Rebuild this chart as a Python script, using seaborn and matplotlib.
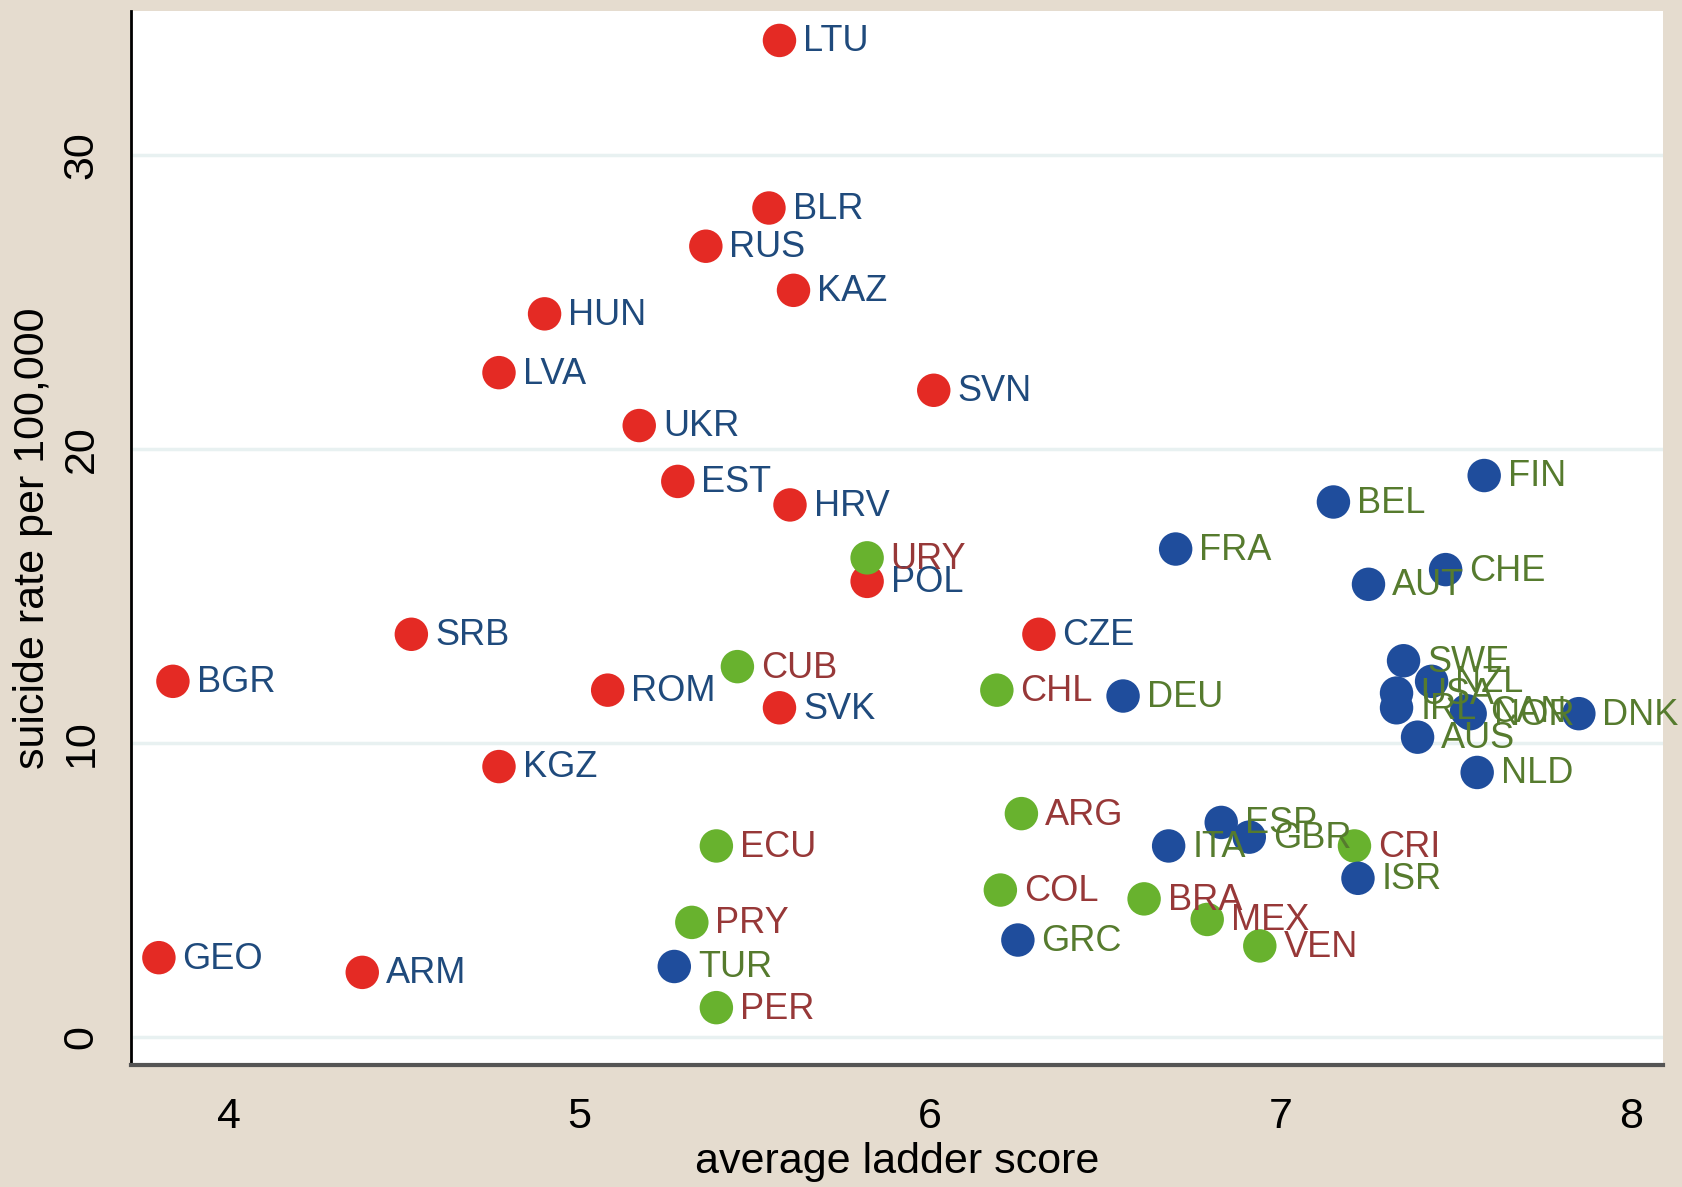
import seaborn as sns
import matplotlib.pyplot as plt
import pandas as pd

# country codes, ladder score, suicide rate, group
red_codes = ['LTU', 'BLR', 'RUS', 'KAZ', 'HUN', 'LVA', 'SVN', 'UKR', 'EST', 'HRV',
             'POL', 'SRB', 'CZE', 'BGR', 'ROM', 'SVK', 'KGZ', 'GEO', 'ARM']
red_ladder = [5.57, 5.54, 5.36, 5.61, 4.90, 4.77, 6.01, 5.17, 5.28, 5.60,
              5.82, 4.52, 6.31, 3.84, 5.08, 5.57, 4.77, 3.80, 4.38]
red_suicide = [33.9, 28.2, 26.9, 25.4, 24.6, 22.6, 22.0, 20.8, 18.9, 18.1,
               15.5, 13.7, 13.7, 12.1, 11.8, 11.2, 9.2, 2.7, 2.2]

green_codes = ['URY', 'CUB', 'CHL', 'ARG', 'ECU', 'CRI', 'COL', 'BRA', 'MEX', 'PRY', 'VEN', 'PER']
green_ladder = [5.82, 5.45, 6.19, 6.26, 5.39, 7.21, 6.20, 6.61, 6.79, 5.32, 6.94, 5.39]
green_suicide = [16.3, 12.6, 11.8, 7.6, 6.5, 6.5, 5.0, 4.7, 4.0, 3.9, 3.1, 1.0]

blue_codes = ['FIN', 'BEL', 'FRA', 'CHE', 'AUT', 'DEU', 'SWE', 'NZL', 'USA', 'IRL',
              'CAN', 'NOR', 'DNK', 'AUS', 'NLD', 'ESP', 'ITA', 'GBR', 'ISR', 'GRC', 'TUR']
blue_ladder = [7.58, 7.15, 6.70, 7.47, 7.25, 6.55, 7.35, 7.43, 7.33, 7.33,
               7.53, 7.54, 7.85, 7.39, 7.56, 6.83, 6.68, 6.91, 7.22, 6.25, 5.27]
blue_suicide = [19.1, 18.2, 16.6, 15.9, 15.4, 11.6, 12.8, 12.1, 11.7, 11.2,
                11.1, 11.0, 11.0, 10.2, 9.0, 7.3, 6.5, 6.8, 5.4, 3.3, 2.4]

x_ticks = [4, 5, 6, 7, 8]
y_ticks = [0, 10, 20, 30]

df = pd.concat([
    pd.DataFrame({'code': red_codes, 'ladder': red_ladder, 'suicide': red_suicide, 'group': 'red'}),
    pd.DataFrame({'code': green_codes, 'ladder': green_ladder, 'suicide': green_suicide, 'group': 'green'}),
    pd.DataFrame({'code': blue_codes, 'ladder': blue_ladder, 'suicide': blue_suicide, 'group': 'blue'}),
], ignore_index=True)

marker_colors = {'red': '#e42a24', 'green': '#68b22e', 'blue': '#1f4d9c'}
label_colors = {'red': '#1f4a7c', 'green': '#973838', 'blue': '#567b2e'}

sns.set_style('white')
plt.rcParams['font.family'] = ['Liberation Sans', 'DejaVu Sans']

fig = plt.figure(figsize=(16.82, 11.87), dpi=100)
fig.patch.set_facecolor('#e5dccf')
ax = fig.add_axes([0.0778, 0.1028, 0.9109, 0.8879])
ax.set_facecolor('white')

for y in y_ticks:
    ax.axhline(y, color='#e8f1f1', lw=2.5, zorder=0)

sns.scatterplot(data=df, x='ladder', y='suicide', hue='group', palette=marker_colors,
                s=580, linewidth=0, legend=False, ax=ax, zorder=3)

# labels sit to the right of each marker, overlapping where the reference does
for _, r in df.iterrows():
    ax.annotate(r['code'], (r['ladder'], r['suicide']), xytext=(17, -1),
                textcoords='offset points', va='center', ha='left',
                fontsize=26, color=label_colors[r['group']], zorder=4)

ax.set_xlim(3.72, 8.09)
ax.set_ylim(-0.95, 34.9)
ax.set_xticks(x_ticks)
ax.set_yticks(y_ticks)
ax.set_xticklabels([str(v) for v in x_ticks], fontsize=31, color='black')
ax.set_yticklabels([str(v) for v in y_ticks], fontsize=31, rotation=90, va='center', color='black')
ax.tick_params(axis='both', direction='out', length=13, width=1.2, color='#444444', pad=8)
ax.tick_params(axis='x', pad=10)

ax.set_xlabel('average ladder score', fontsize=31, labelpad=4, color='black')
ax.set_ylabel('suicide rate per 100,000', fontsize=31, labelpad=6, color='black')

for side in ['top', 'right']:
    ax.spines[side].set_visible(False)
ax.spines['left'].set_color('black')
ax.spines['left'].set_linewidth(2)
ax.spines['bottom'].set_color('#555555')
ax.spines['bottom'].set_linewidth(3)

fig.savefig('out.png', dpi=100, facecolor=fig.get_facecolor())
